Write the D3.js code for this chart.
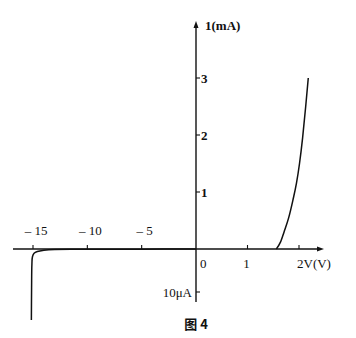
<!DOCTYPE html>
<html>
<head>
<meta charset="utf-8">
<script src="https://cdn.jsdelivr.net/npm/d3@7"></script>
<style>
  body { margin: 0; background: #fff; }
  text { font-family: "Liberation Serif", "DejaVu Serif", serif; fill: #111; }
</style>
</head>
<body>
<svg id="chart" width="356" height="338"></svg>
<script>
// forward branch: volts / mA
const fwdV = [1.56, 1.64, 1.71, 1.80, 1.88, 1.95, 2.01, 2.07, 2.13, 2.18]
const fwdI = [0, 0.12, 0.3, 0.55, 0.85, 1.15, 1.5, 1.95, 2.5, 3.0]
// reverse branch: volts / μA
const revV = [0, -5, -10, -13, -14, -14.6, -14.9, -15.05, -15.1, -15.13, -15.15]
const revI = [0, -0.03, -0.06, -0.1, -0.3, -0.6, -1.0, -1.8, -3.5, -9, -16.5]

const xNegTicks = [-15, -10, -5]
const xPosTicks = [1, 2]
const yTicks = [1, 2, 3]

let svg = d3.select('#chart')

// piecewise scales: different units on either side of the origin
let x = d3.scaleLinear().domain([-15, 0, 2]).range([33, 196, 299])
let y = d3.scaleLinear().domain([-0.01, 0, 3]).range([292, 249, 78]) // mA

let ink = '#111'

// axes
svg.append('line').attr('x1', 13).attr('x2', 321).attr('y1', y(0)).attr('y2', y(0))
    .attr('stroke', ink).attr('stroke-width', 1.4)
svg.append('line').attr('x1', x(0)).attr('x2', x(0)).attr('y1', 302).attr('y2', 24)
    .attr('stroke', ink).attr('stroke-width', 1.4)

// arrow heads
svg.append('path').attr('d', `M${324},${y(0)} l-7,-2.5 l0,5 z`).attr('fill', ink)
svg.append('path').attr('d', `M${x(0)},${21} l-2.5,7 l5,0 z`).attr('fill', ink)

// x ticks (pointing up)
svg.selectAll('.xt').data(xNegTicks.concat(xPosTicks)).enter().append('line')
    .attr('x1', d => x(d)).attr('x2', d => x(d))
    .attr('y1', y(0)).attr('y2', y(0) - 4)
    .attr('stroke', ink).attr('stroke-width', 1.1)

svg.selectAll('.xnl').data(xNegTicks).enter().append('text')
    .attr('x', d => x(d) + 3).attr('y', 235)
    .attr('text-anchor', 'middle').attr('font-size', 13)
    .text(d => '\u2013 ' + Math.abs(d))

svg.append('text').attr('x', x(0) + 4).attr('y', 268).attr('font-size', 13).text('0')
svg.append('text').attr('x', x(1) - 1).attr('y', 268).attr('font-size', 13)
    .attr('text-anchor', 'middle').text('1')
svg.append('text').attr('x', x(2) - 2).attr('y', 268).attr('font-size', 13).text('2V(V)')

// y ticks (pointing right)
svg.selectAll('.yt').data(yTicks.concat([-0.01])).enter().append('line')
    .attr('x1', x(0)).attr('x2', x(0) + 4)
    .attr('y1', d => y(d)).attr('y2', d => y(d))
    .attr('stroke', ink).attr('stroke-width', 1.1)

svg.selectAll('.yl').data(yTicks).enter().append('text')
    .attr('x', x(0) + 5).attr('y', d => y(d) + 5)
    .attr('font-size', 13).attr('font-weight', 'bold')
    .text(d => d)

svg.append('text').attr('x', x(0) + 9).attr('y', 30)
    .attr('font-size', 13).attr('font-weight', 'bold').text('1(mA)')
svg.append('text').attr('x', x(0) - 4).attr('y', y(-0.01) + 5)
    .attr('text-anchor', 'end').attr('font-size', 13).text('10\u03bcA')

// curves
let fwd = fwdV.map((v, i) => [x(v), y(fwdI[i])])
svg.append('path').attr('d', d3.line().curve(d3.curveMonotoneX)(fwd))
    .attr('fill', 'none').attr('stroke', ink).attr('stroke-width', 1.5)

let rev = revV.map((v, i) => [x(v), y(revI[i] / 1000)])
svg.append('path').attr('d', d3.line().curve(d3.curveCatmullRom)(rev))
    .attr('fill', 'none').attr('stroke', ink).attr('stroke-width', 1.5)

// caption
svg.append('text').attr('x', 196).attr('y', 329).attr('text-anchor', 'middle')
    .attr('font-size', 13).attr('font-weight', 'bold')
    .style('font-family', '"Noto Sans CJK SC", sans-serif')
    .text('图 4')
</script>
</body>
</html>
